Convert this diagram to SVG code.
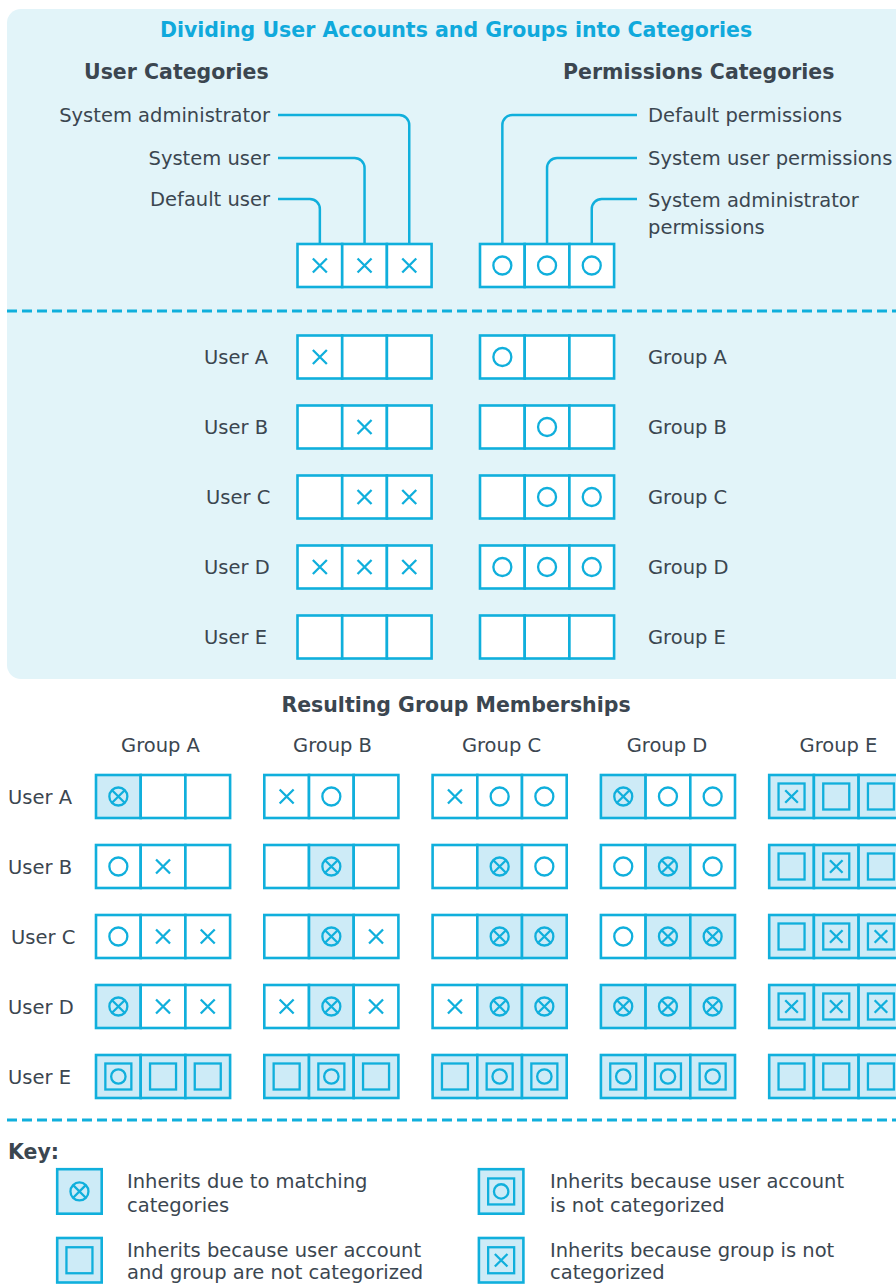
<svg xmlns="http://www.w3.org/2000/svg" xmlns:xlink="http://www.w3.org/1999/xlink" width="896" height="1284" viewBox="0 0 896 1284">
<style>
text{font-family:"DejaVu Sans",Verdana,sans-serif;fill:#3b4650}
.t{font-size:19.5px}
.b{font-size:20.5px;font-weight:bold}
.title{font-size:20.5px;font-weight:bold;fill:#10a9dc}
.c{fill:#fff;stroke:#10afdc;stroke-width:2.6}
.h{fill:#cdebf7;stroke:#10afdc;stroke-width:2.6}
.m{fill:none;stroke:#10afdc;stroke-width:2.3}
.cn{fill:none;stroke:#10afdc;stroke-width:2.5}
.d{fill:none;stroke:#10afdc;stroke-width:3;stroke-dasharray:10 5}
</style>
<defs>
<path id="x" class="m" d="M-7,-7L7,7M7,-7L-7,7"/>
<circle id="o" class="m" r="9"/>
<g id="ox"><circle class="m" r="9"/><path class="m" d="M-6.3,-6.3L6.3,6.3M6.3,-6.3L-6.3,6.3"/></g>
<rect id="sq" class="m" x="-13" y="-13" width="26" height="26"/>
<g id="sqo"><rect class="m" x="-13" y="-13" width="26" height="26"/><circle class="m" r="7.2"/></g>
<g id="sqx"><rect class="m" x="-13" y="-13" width="26" height="26"/><path class="m" d="M-6.3,-6.3L6.3,6.3M6.3,-6.3L-6.3,6.3"/></g>
</defs>

<rect id="panel" x="7" y="9" width="920" height="670" rx="14" fill="#e2f4f9"/>
<text class="title" x="456" y="37" text-anchor="middle">Dividing User Accounts and Groups into Categories</text>
<text class="b" x="84" y="79">User Categories</text>
<text class="b" x="563" y="79">Permissions Categories</text>

<g id="connectors">
<path class="cn" d="M278,115H399.25A10,10 0 0 1 409.25,125V244"/>
<path class="cn" d="M278,158H354.55A10,10 0 0 1 364.55,168V244"/>
<path class="cn" d="M278,199H309.85A10,10 0 0 1 319.85,209V244"/>
<path class="cn" d="M637,115H512.35A10,10 0 0 0 502.35,125V244"/>
<path class="cn" d="M637,158H557.05A10,10 0 0 0 547.05,168V244"/>
<path class="cn" d="M637,199H601.75A10,10 0 0 0 591.75,209V244"/>
</g>

<g id="user-category-labels">
<text class="t" x="270" y="121.5" text-anchor="end">System administrator</text>
<text class="t" x="270" y="164.5" text-anchor="end">System user</text>
<text class="t" x="270" y="205.5" text-anchor="end">Default user</text>
</g>
<g id="perm-category-labels">
<text class="t" x="648" y="121.5">Default permissions</text>
<text class="t" x="648" y="164.5">System user permissions</text>
<text class="t" x="648" y="206.5">System administrator</text>
<text class="t" x="648" y="234">permissions</text>
</g>

<g id="user-categories-box">
<rect class="c" x="297.5" y="244" width="44.7" height="43"/><rect class="c" x="342.2" y="244" width="44.7" height="43"/><rect class="c" x="386.9" y="244" width="44.7" height="43"/>
<use href="#x" x="319.85" y="265.5"/><use href="#x" x="364.55" y="265.5"/><use href="#x" x="409.25" y="265.5"/>
</g>
<g id="perm-categories-box">
<rect class="c" x="480" y="244" width="44.7" height="43"/><rect class="c" x="524.7" y="244" width="44.7" height="43"/><rect class="c" x="569.4" y="244" width="44.7" height="43"/>
<use href="#o" x="502.35" y="265.5"/><use href="#o" x="547.05" y="265.5"/><use href="#o" x="591.75" y="265.5"/>
</g>

<line class="d" x1="7" y1="311" x2="896" y2="311"/>

<g id="userA">
<text class="t" x="204" y="364">User A</text>
<rect class="c" x="297.5" y="335.5" width="44.7" height="43"/><rect class="c" x="342.2" y="335.5" width="44.7" height="43"/><rect class="c" x="386.9" y="335.5" width="44.7" height="43"/>
<use href="#x" x="319.85" y="357"/>
</g>
<g id="groupA">
<rect class="c" x="480" y="335.5" width="44.7" height="43"/><rect class="c" x="524.7" y="335.5" width="44.7" height="43"/><rect class="c" x="569.4" y="335.5" width="44.7" height="43"/>
<use href="#o" x="502.35" y="357"/>
<text class="t" x="648" y="364">Group A</text>
</g>
<g id="userB">
<text class="t" x="204" y="434">User B</text>
<rect class="c" x="297.5" y="405.5" width="44.7" height="43"/><rect class="c" x="342.2" y="405.5" width="44.7" height="43"/><rect class="c" x="386.9" y="405.5" width="44.7" height="43"/>
<use href="#x" x="364.55" y="427"/>
</g>
<g id="groupB">
<rect class="c" x="480" y="405.5" width="44.7" height="43"/><rect class="c" x="524.7" y="405.5" width="44.7" height="43"/><rect class="c" x="569.4" y="405.5" width="44.7" height="43"/>
<use href="#o" x="547.05" y="427"/>
<text class="t" x="648" y="434">Group B</text>
</g>
<g id="userC">
<text class="t" x="206" y="504">User C</text>
<rect class="c" x="297.5" y="475.5" width="44.7" height="43"/><rect class="c" x="342.2" y="475.5" width="44.7" height="43"/><rect class="c" x="386.9" y="475.5" width="44.7" height="43"/>
<use href="#x" x="364.55" y="497"/><use href="#x" x="409.25" y="497"/>
</g>
<g id="groupC">
<rect class="c" x="480" y="475.5" width="44.7" height="43"/><rect class="c" x="524.7" y="475.5" width="44.7" height="43"/><rect class="c" x="569.4" y="475.5" width="44.7" height="43"/>
<use href="#o" x="547.05" y="497"/><use href="#o" x="591.75" y="497"/>
<text class="t" x="648" y="504">Group C</text>
</g>
<g id="userD">
<text class="t" x="204" y="574">User D</text>
<rect class="c" x="297.5" y="545.5" width="44.7" height="43"/><rect class="c" x="342.2" y="545.5" width="44.7" height="43"/><rect class="c" x="386.9" y="545.5" width="44.7" height="43"/>
<use href="#x" x="319.85" y="567"/><use href="#x" x="364.55" y="567"/><use href="#x" x="409.25" y="567"/>
</g>
<g id="groupD">
<rect class="c" x="480" y="545.5" width="44.7" height="43"/><rect class="c" x="524.7" y="545.5" width="44.7" height="43"/><rect class="c" x="569.4" y="545.5" width="44.7" height="43"/>
<use href="#o" x="502.35" y="567"/><use href="#o" x="547.05" y="567"/><use href="#o" x="591.75" y="567"/>
<text class="t" x="648" y="574">Group D</text>
</g>
<g id="userE">
<text class="t" x="204" y="644">User E</text>
<rect class="c" x="297.5" y="615.5" width="44.7" height="43"/><rect class="c" x="342.2" y="615.5" width="44.7" height="43"/><rect class="c" x="386.9" y="615.5" width="44.7" height="43"/>
</g>
<g id="groupE">
<rect class="c" x="480" y="615.5" width="44.7" height="43"/><rect class="c" x="524.7" y="615.5" width="44.7" height="43"/><rect class="c" x="569.4" y="615.5" width="44.7" height="43"/>
<text class="t" x="648" y="644">Group E</text>
</g>

<text class="b" x="456" y="712" text-anchor="middle">Resulting Group Memberships</text>
<g id="col-headers">
<text class="t" x="160.5" y="752" text-anchor="middle">Group A</text>
<text class="t" x="332.5" y="752" text-anchor="middle">Group B</text>
<text class="t" x="501.5" y="752" text-anchor="middle">Group C</text>
<text class="t" x="667" y="752" text-anchor="middle">Group D</text>
<text class="t" x="838.5" y="752" text-anchor="middle">Group E</text>
</g>
<g id="row-headers">
<text class="t" x="8" y="803.5">User A</text>
<text class="t" x="8" y="873.5">User B</text>
<text class="t" x="11" y="943.5">User C</text>
<text class="t" x="8" y="1013.5">User D</text>
<text class="t" x="8" y="1083.5">User E</text>
</g>

<g id="rA-gA"><rect class="h" x="96" y="775" width="44.7" height="43"/><rect class="c" x="140.7" y="775" width="44.7" height="43"/><rect class="c" x="185.4" y="775" width="44.7" height="43"/><use href="#ox" x="118.35" y="796.5"/></g>
<g id="rA-gB"><rect class="c" x="264.3" y="775" width="44.7" height="43"/><rect class="c" x="309" y="775" width="44.7" height="43"/><rect class="c" x="353.7" y="775" width="44.7" height="43"/><use href="#x" x="286.65" y="796.5"/><use href="#o" x="331.35" y="796.5"/></g>
<g id="rA-gC"><rect class="c" x="432.6" y="775" width="44.7" height="43"/><rect class="c" x="477.3" y="775" width="44.7" height="43"/><rect class="c" x="522" y="775" width="44.7" height="43"/><use href="#x" x="454.95" y="796.5"/><use href="#o" x="499.65" y="796.5"/><use href="#o" x="544.35" y="796.5"/></g>
<g id="rA-gD"><rect class="h" x="600.9" y="775" width="44.7" height="43"/><rect class="c" x="645.6" y="775" width="44.7" height="43"/><rect class="c" x="690.3" y="775" width="44.7" height="43"/><use href="#ox" x="623.25" y="796.5"/><use href="#o" x="667.95" y="796.5"/><use href="#o" x="712.65" y="796.5"/></g>
<g id="rA-gE"><rect class="h" x="769.2" y="775" width="44.7" height="43"/><rect class="h" x="813.9" y="775" width="44.7" height="43"/><rect class="h" x="858.6" y="775" width="44.7" height="43"/><use href="#sqx" x="791.55" y="796.5"/><use href="#sq" x="836.25" y="796.5"/><use href="#sq" x="880.95" y="796.5"/></g>

<g id="rB-gA"><rect class="c" x="96" y="845" width="44.7" height="43"/><rect class="c" x="140.7" y="845" width="44.7" height="43"/><rect class="c" x="185.4" y="845" width="44.7" height="43"/><use href="#o" x="118.35" y="866.5"/><use href="#x" x="163.05" y="866.5"/></g>
<g id="rB-gB"><rect class="c" x="264.3" y="845" width="44.7" height="43"/><rect class="h" x="309" y="845" width="44.7" height="43"/><rect class="c" x="353.7" y="845" width="44.7" height="43"/><use href="#ox" x="331.35" y="866.5"/></g>
<g id="rB-gC"><rect class="c" x="432.6" y="845" width="44.7" height="43"/><rect class="h" x="477.3" y="845" width="44.7" height="43"/><rect class="c" x="522" y="845" width="44.7" height="43"/><use href="#ox" x="499.65" y="866.5"/><use href="#o" x="544.35" y="866.5"/></g>
<g id="rB-gD"><rect class="c" x="600.9" y="845" width="44.7" height="43"/><rect class="h" x="645.6" y="845" width="44.7" height="43"/><rect class="c" x="690.3" y="845" width="44.7" height="43"/><use href="#o" x="623.25" y="866.5"/><use href="#ox" x="667.95" y="866.5"/><use href="#o" x="712.65" y="866.5"/></g>
<g id="rB-gE"><rect class="h" x="769.2" y="845" width="44.7" height="43"/><rect class="h" x="813.9" y="845" width="44.7" height="43"/><rect class="h" x="858.6" y="845" width="44.7" height="43"/><use href="#sq" x="791.55" y="866.5"/><use href="#sqx" x="836.25" y="866.5"/><use href="#sq" x="880.95" y="866.5"/></g>

<g id="rC-gA"><rect class="c" x="96" y="915" width="44.7" height="43"/><rect class="c" x="140.7" y="915" width="44.7" height="43"/><rect class="c" x="185.4" y="915" width="44.7" height="43"/><use href="#o" x="118.35" y="936.5"/><use href="#x" x="163.05" y="936.5"/><use href="#x" x="207.75" y="936.5"/></g>
<g id="rC-gB"><rect class="c" x="264.3" y="915" width="44.7" height="43"/><rect class="h" x="309" y="915" width="44.7" height="43"/><rect class="c" x="353.7" y="915" width="44.7" height="43"/><use href="#ox" x="331.35" y="936.5"/><use href="#x" x="376.05" y="936.5"/></g>
<g id="rC-gC"><rect class="c" x="432.6" y="915" width="44.7" height="43"/><rect class="h" x="477.3" y="915" width="44.7" height="43"/><rect class="h" x="522" y="915" width="44.7" height="43"/><use href="#ox" x="499.65" y="936.5"/><use href="#ox" x="544.35" y="936.5"/></g>
<g id="rC-gD"><rect class="c" x="600.9" y="915" width="44.7" height="43"/><rect class="h" x="645.6" y="915" width="44.7" height="43"/><rect class="h" x="690.3" y="915" width="44.7" height="43"/><use href="#o" x="623.25" y="936.5"/><use href="#ox" x="667.95" y="936.5"/><use href="#ox" x="712.65" y="936.5"/></g>
<g id="rC-gE"><rect class="h" x="769.2" y="915" width="44.7" height="43"/><rect class="h" x="813.9" y="915" width="44.7" height="43"/><rect class="h" x="858.6" y="915" width="44.7" height="43"/><use href="#sq" x="791.55" y="936.5"/><use href="#sqx" x="836.25" y="936.5"/><use href="#sqx" x="880.95" y="936.5"/></g>

<g id="rD-gA"><rect class="h" x="96" y="985" width="44.7" height="43"/><rect class="c" x="140.7" y="985" width="44.7" height="43"/><rect class="c" x="185.4" y="985" width="44.7" height="43"/><use href="#ox" x="118.35" y="1006.5"/><use href="#x" x="163.05" y="1006.5"/><use href="#x" x="207.75" y="1006.5"/></g>
<g id="rD-gB"><rect class="c" x="264.3" y="985" width="44.7" height="43"/><rect class="h" x="309" y="985" width="44.7" height="43"/><rect class="c" x="353.7" y="985" width="44.7" height="43"/><use href="#x" x="286.65" y="1006.5"/><use href="#ox" x="331.35" y="1006.5"/><use href="#x" x="376.05" y="1006.5"/></g>
<g id="rD-gC"><rect class="c" x="432.6" y="985" width="44.7" height="43"/><rect class="h" x="477.3" y="985" width="44.7" height="43"/><rect class="h" x="522" y="985" width="44.7" height="43"/><use href="#x" x="454.95" y="1006.5"/><use href="#ox" x="499.65" y="1006.5"/><use href="#ox" x="544.35" y="1006.5"/></g>
<g id="rD-gD"><rect class="h" x="600.9" y="985" width="44.7" height="43"/><rect class="h" x="645.6" y="985" width="44.7" height="43"/><rect class="h" x="690.3" y="985" width="44.7" height="43"/><use href="#ox" x="623.25" y="1006.5"/><use href="#ox" x="667.95" y="1006.5"/><use href="#ox" x="712.65" y="1006.5"/></g>
<g id="rD-gE"><rect class="h" x="769.2" y="985" width="44.7" height="43"/><rect class="h" x="813.9" y="985" width="44.7" height="43"/><rect class="h" x="858.6" y="985" width="44.7" height="43"/><use href="#sqx" x="791.55" y="1006.5"/><use href="#sqx" x="836.25" y="1006.5"/><use href="#sqx" x="880.95" y="1006.5"/></g>

<g id="rE-gA"><rect class="h" x="96" y="1055" width="44.7" height="43"/><rect class="h" x="140.7" y="1055" width="44.7" height="43"/><rect class="h" x="185.4" y="1055" width="44.7" height="43"/><use href="#sqo" x="118.35" y="1076.5"/><use href="#sq" x="163.05" y="1076.5"/><use href="#sq" x="207.75" y="1076.5"/></g>
<g id="rE-gB"><rect class="h" x="264.3" y="1055" width="44.7" height="43"/><rect class="h" x="309" y="1055" width="44.7" height="43"/><rect class="h" x="353.7" y="1055" width="44.7" height="43"/><use href="#sq" x="286.65" y="1076.5"/><use href="#sqo" x="331.35" y="1076.5"/><use href="#sq" x="376.05" y="1076.5"/></g>
<g id="rE-gC"><rect class="h" x="432.6" y="1055" width="44.7" height="43"/><rect class="h" x="477.3" y="1055" width="44.7" height="43"/><rect class="h" x="522" y="1055" width="44.7" height="43"/><use href="#sq" x="454.95" y="1076.5"/><use href="#sqo" x="499.65" y="1076.5"/><use href="#sqo" x="544.35" y="1076.5"/></g>
<g id="rE-gD"><rect class="h" x="600.9" y="1055" width="44.7" height="43"/><rect class="h" x="645.6" y="1055" width="44.7" height="43"/><rect class="h" x="690.3" y="1055" width="44.7" height="43"/><use href="#sqo" x="623.25" y="1076.5"/><use href="#sqo" x="667.95" y="1076.5"/><use href="#sqo" x="712.65" y="1076.5"/></g>
<g id="rE-gE"><rect class="h" x="769.2" y="1055" width="44.7" height="43"/><rect class="h" x="813.9" y="1055" width="44.7" height="43"/><rect class="h" x="858.6" y="1055" width="44.7" height="43"/><use href="#sq" x="791.55" y="1076.5"/><use href="#sq" x="836.25" y="1076.5"/><use href="#sq" x="880.95" y="1076.5"/></g>

<line class="d" x1="7" y1="1120" x2="896" y2="1120"/>

<text class="b" x="8" y="1159">Key:</text>
<g id="key1"><rect class="h" x="57.2" y="1169.2" width="44.5" height="44.5"/><use href="#ox" x="79.45" y="1191.45"/>
<text class="t" x="127" y="1188">Inherits due to matching</text><text class="t" x="127" y="1212">categories</text></g>
<g id="key2"><rect class="h" x="478.9" y="1169.2" width="44.5" height="44.5"/><use href="#sqo" x="501.15" y="1191.45"/>
<text class="t" x="550" y="1188">Inherits because user account</text><text class="t" x="550" y="1212">is not categorized</text></g>
<g id="key3"><rect class="h" x="57.2" y="1238" width="44.5" height="44.5"/><use href="#sq" x="79.45" y="1260.25"/>
<text class="t" x="127" y="1257">Inherits because user account</text><text class="t" x="127" y="1279">and group are not categorized</text></g>
<g id="key4"><rect class="h" x="478.9" y="1238" width="44.5" height="44.5"/><use href="#sqx" x="501.15" y="1260.25"/>
<text class="t" x="550" y="1257">Inherits because group is not</text><text class="t" x="550" y="1279">categorized</text></g>
</svg>
